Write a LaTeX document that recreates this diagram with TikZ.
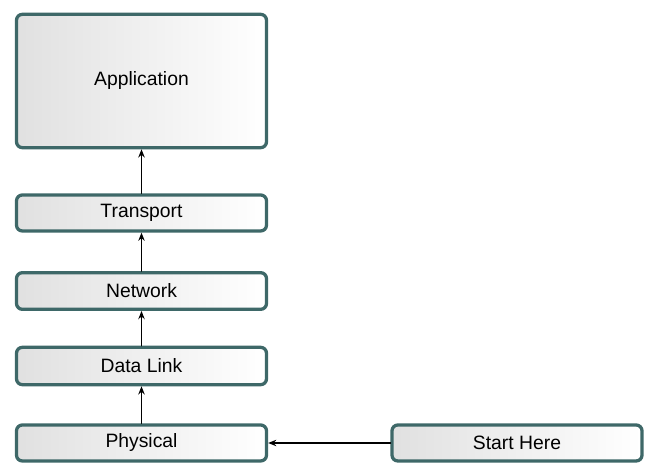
\documentclass[tikz,border=0pt]{standalone}
\usepackage{fontspec}
\setmainfont{Liberation Sans}
\usetikzlibrary{arrows.meta}
\definecolor{layerrim}{RGB}{62,104,104}
\tikzset{
  layer/.style={draw=layerrim, line width=2.8pt, rounded corners=5pt,
    left color=black!12, right color=white, minimum width=7.5cm,
    inner sep=0pt, font=\fontsize{16.5}{19}\selectfont},
  flow/.style={-{Stealth[length=7pt,width=5.5pt]}, line width=1.4pt}
}
\begin{document}
\begin{tikzpicture}[line join=round, line cap=round]
\useasboundingbox (0,0) rectangle (19.47,13.98);
\node[layer, minimum height=4.0cm] (app) at (4.245,11.55) {Application};
\node[layer, minimum height=1.08cm] (trans) at (4.245,7.59) {Transport};
\node[layer, minimum height=1.1cm] (net) at (4.245,5.25) {Network};
\node[layer, minimum height=1.12cm] (dlink) at (4.245,3.0) {Data Link};
\node[layer, minimum height=1.08cm] (phys) at (4.245,0.69) {Physical};
\node[layer, minimum height=1.08cm] (start) at (15.51,0.69) {Start Here};
% upward through the stack
\foreach \a/\b in {phys/dlink,dlink/net,net/trans,trans/app}
\draw[flow] (\a.north) -- (\b.south);
\draw[flow] (start.west) -- (phys.east);
\end{tikzpicture}
\end{document}
